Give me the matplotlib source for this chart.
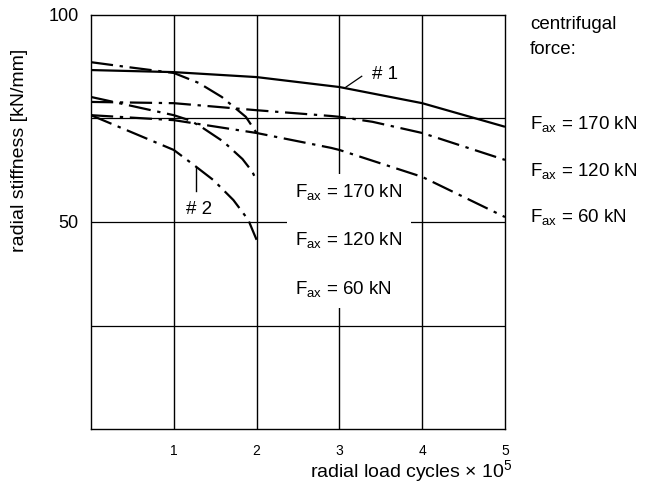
import matplotlib
matplotlib.use('Agg')
from matplotlib import pyplot as plt

plt.rcParams['font.family'] = ['Liberation Sans', 'DejaVu Sans']
plt.rcParams['mathtext.fontset'] = 'custom'
plt.rcParams['mathtext.rm'] = 'Liberation Sans'

# curve #1 (long tests, up to 5 x 10^5 cycles)
x1 = [0, 1, 2, 3, 4, 5]
k1_170 = [86.7, 86.2, 85.0, 82.6, 78.7, 73.0]
x1_120 = [0, 1, 2, 2.9, 3, 3.4, 4, 5]
k1_120 = [79.0, 78.7, 77.0, 75.6, 75.4, 74.2, 71.5, 65.0]
x1_60 = [0, 1, 2, 2.9, 3, 4, 5]
k1_60 = [75.8, 74.6, 71.5, 67.9, 67.4, 60.9, 51.2]

# curve #2 (short tests, up to 2 x 10^5 cycles)
x2_170 = [0, 0.45, 1, 1.3, 1.58, 1.87, 2]
k2_170 = [88.6, 87.4, 86.0, 83.6, 80.2, 75.4, 71.5]
x2_120 = [0, 1, 1.2, 1.33, 1.6, 1.83, 1.95, 2]
k2_120 = [80.2, 75.8, 74.5, 73.0, 69.4, 65.2, 62.1, 59.9]
x2_60 = [0, 1, 1.24, 1.48, 1.72, 1.9, 2]
k2_60 = [75.8, 67.4, 63.8, 60.1, 55.3, 50.5, 45.7]

fig = plt.figure(figsize=(6.48, 4.93), dpi=100)
ax = fig.add_axes([0.1404, 0.1298, 0.6389, 0.8398])

dd = (0, (10, 3, 1.5, 3))
ax.plot(x1, k1_170, c='black', lw=1.6, solid_capstyle='butt', zorder=4)
ax.plot(x1_120, k1_120, c='black', lw=1.6, ls=dd, zorder=4)
ax.plot(x1_60, k1_60, c='black', lw=1.6, ls=dd, zorder=4)
ax.plot(x2_170, k2_170, c='black', lw=1.6, ls=dd, zorder=4)
ax.plot(x2_120, k2_120, c='black', lw=1.6, ls=dd, zorder=4)
ax.plot(x2_60, k2_60, c='black', lw=1.6, ls=dd, zorder=4)

# grid
for gx in [1, 2, 3, 4]:
    ax.axvline(gx, c='black', lw=1.0, zorder=1)
for gy in [25, 50, 75]:
    ax.axhline(gy, c='black', lw=0.9, zorder=1)

ax.set_xlim(0, 5)
ax.set_ylim(0, 100)
ax.set_xticks([1, 2, 3, 4, 5])
ax.set_yticks([50, 100])
ax.tick_params(axis='both', length=0)
ax.tick_params(axis='x', labelsize=10, pad=11)
ax.tick_params(axis='y', labelsize=13, pad=9)
for s in ax.spines.values():
    s.set_linewidth(1.0)

# labels inside the plot
ax.text(2.47, 45.4, 'F$_{\\rm ax}$ = 170 kN\n\nF$_{\\rm ax}$ = 120 kN\n\nF$_{\\rm ax}$ = 60 kN',
        fontsize=13.5, ha='left', va='center', linespacing=1.4, zorder=3,
        bbox=dict(facecolor='white', edgecolor='none', pad=6))
ax.text(3.55, 85.6, '# 1', fontsize=13.5, ha='center', va='center', zorder=5)
ax.plot([3.08, 3.27], [82.6, 85.2], c='black', lw=0.9, zorder=5)
ax.text(1.3, 53.0, '# 2', fontsize=13.5, ha='center', va='center', zorder=5)
ax.plot([1.265, 1.265], [63.3, 57.4], c='black', lw=1.0, zorder=5)

# side text
fig.text(530 / 648, 1 - 37 / 493, 'centrifugal\nforce:', fontsize=13.5,
         ha='left', va='center', linespacing=1.65)
for yy, txt in [(125, 'F$_{\\rm ax}$ = 170 kN'), (172, 'F$_{\\rm ax}$ = 120 kN'),
                (218, 'F$_{\\rm ax}$ = 60 kN')]:
    fig.text(530 / 648, 1 - yy / 493, txt, fontsize=13.5, ha='left', va='center')

fig.text(20 / 648, 1 - 150 / 493, 'radial stiffness [kN/mm]', fontsize=14,
         rotation=90, ha='center', va='center')
fig.text(513 / 648, 1 - 472 / 493, 'radial load cycles $\\times$ 10$^5$', fontsize=14,
         ha='right', va='center')

fig.savefig('out.png', dpi=100)
